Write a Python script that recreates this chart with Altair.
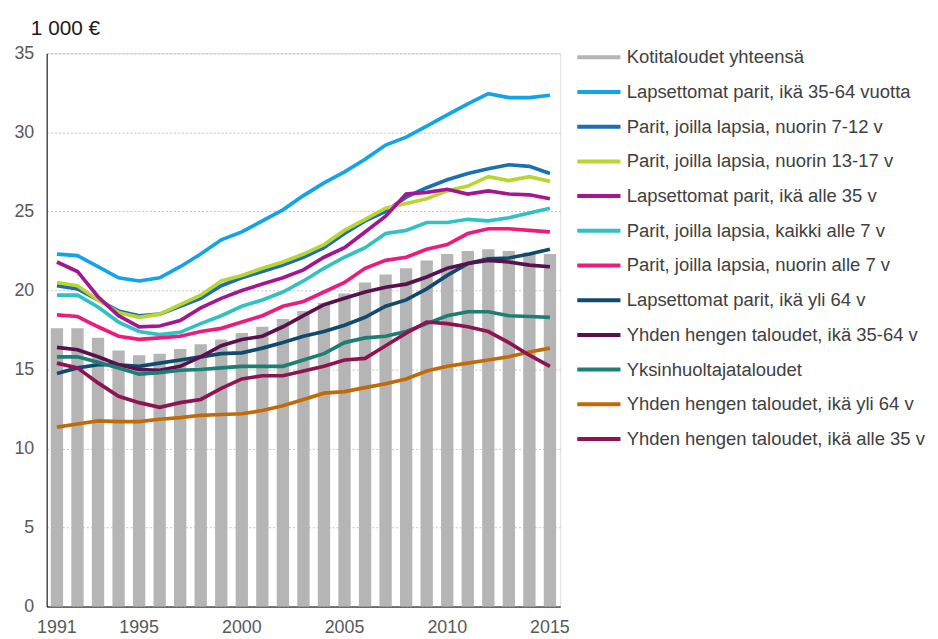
import altair as alt
import pandas as pd

years = list(range(1991, 2016))

total = [17.6, 17.6, 17.0, 16.2, 15.9, 16.0, 16.3, 16.6, 16.9, 17.3, 17.7, 18.2, 18.7,
         19.2, 19.8, 20.5, 21.0, 21.4, 21.9, 22.3, 22.5, 22.6, 22.5, 22.4, 22.3]

l3564 = [22.3, 22.2, 21.5, 20.8, 20.6, 20.8, 21.5, 22.3, 23.2, 23.7, 24.4, 25.1, 26.0,
         26.8, 27.5, 28.3, 29.2, 29.7, 30.4, 31.1, 31.8, 32.45, 32.2, 32.2, 32.35]
p712 = [20.3, 20.1, 19.4, 18.7, 18.4, 18.5, 19.0, 19.5, 20.3, 20.8, 21.2, 21.6, 22.1,
        22.7, 23.6, 24.4, 25.0, 25.9, 26.5, 27.0, 27.4, 27.7, 27.95, 27.85, 27.4]
p1317 = [20.5, 20.3, 19.4, 18.6, 18.3, 18.5, 19.1, 19.7, 20.6, 20.95, 21.4, 21.8, 22.3,
         22.9, 23.8, 24.5, 25.2, 25.5, 25.8, 26.3, 26.6, 27.2, 26.95, 27.2, 26.9]
la35 = [21.8, 21.2, 19.6, 18.4, 17.7, 17.75, 18.1, 18.9, 19.5, 20.0, 20.4, 20.8, 21.3,
        22.1, 22.7, 23.7, 24.7, 26.1, 26.2, 26.4, 26.1, 26.3, 26.1, 26.05, 25.8]
kaikki7 = [19.7, 19.7, 18.95, 18.0, 17.4, 17.2, 17.35, 17.9, 18.4, 19.0, 19.4, 19.9, 20.6,
           21.4, 22.1, 22.7, 23.6, 23.8, 24.3, 24.3, 24.5, 24.4, 24.6, 24.9, 25.2]
nuorin7 = [18.45, 18.35, 17.7, 17.1, 16.9, 17.0, 17.1, 17.4, 17.6, 18.0, 18.4, 19.0, 19.3,
           19.9, 20.5, 21.4, 21.9, 22.1, 22.6, 22.9, 23.6, 23.9, 23.9, 23.8, 23.7]
yli64 = [14.75, 15.1, 15.3, 15.3, 15.2, 15.4, 15.6, 15.8, 16.0, 16.05, 16.35, 16.7, 17.1,
         17.4, 17.8, 18.3, 19.0, 19.4, 20.1, 20.95, 21.7, 22.0, 22.05, 22.3, 22.6]
y3564 = [16.4, 16.25, 15.8, 15.3, 15.0, 14.95, 15.2, 15.8, 16.5, 16.9, 17.1, 17.7, 18.4,
         19.1, 19.5, 19.9, 20.2, 20.4, 20.85, 21.4, 21.7, 21.9, 21.8, 21.6, 21.5]
yksin = [15.8, 15.8, 15.45, 15.1, 14.7, 14.8, 14.95, 15.0, 15.1, 15.2, 15.2, 15.2, 15.6,
         16.0, 16.7, 17.0, 17.1, 17.4, 17.9, 18.4, 18.65, 18.65, 18.4, 18.35, 18.3]
y64 = [11.35, 11.55, 11.75, 11.7, 11.7, 11.85, 11.95, 12.1, 12.15, 12.2, 12.4, 12.7, 13.1,
       13.5, 13.6, 13.85, 14.1, 14.4, 14.9, 15.2, 15.4, 15.6, 15.8, 16.1, 16.35]
ya35 = [15.4, 15.1, 14.15, 13.3, 12.9, 12.6, 12.9, 13.1, 13.8, 14.4, 14.6, 14.6, 14.9,
        15.2, 15.6, 15.7, 16.5, 17.3, 18.0, 17.9, 17.7, 17.4, 16.7, 15.9, 15.2]

total_name = "Kotitaloudet yhteensä"
series_names = [
    "Lapsettomat parit, ikä 35-64 vuotta",
    "Parit, joilla lapsia, nuorin 7-12 v",
    "Parit, joilla lapsia, nuorin 13-17 v",
    "Lapsettomat parit, ikä alle 35 v",
    "Parit, joilla lapsia, kaikki alle 7 v",
    "Parit, joilla lapsia, nuorin alle 7 v",
    "Lapsettomat parit, ikä yli 64 v",
    "Yhden hengen taloudet, ikä 35-64 v",
    "Yksinhuoltajataloudet",
    "Yhden hengen taloudet, ikä yli 64 v",
    "Yhden hengen taloudet, ikä alle 35 v",
]
series_values = [l3564, p712, p1317, la35, kaikki7, nuorin7, yli64, y3564, yksin, y64, ya35]
bar_color = "#b5b5b5"
line_colors = ["#12a4ea", "#1b6fb0", "#b9d532", "#a3168f", "#30c2c2", "#ec1c7c",
               "#114a6d", "#5a0f4e", "#1c7f74", "#c06b0a", "#8d1352"]
tick_years = [1991, 1995, 2000, 2005, 2010, 2015]
y_ticks = [0, 5, 10, 15, 20, 25, 30, 35]

rows = []
for name, vals in zip(series_names, series_values):
    for yr, v in zip(years, vals):
        rows.append({"year": yr, "series": name, "value": v})
lines_df = pd.DataFrame(rows)
bars_df = pd.DataFrame({"year": years, "value": total})

legend_domain = [total_name] + series_names
legend_range = [bar_color] + line_colors

FONT = "Liberation Sans"

x_enc = alt.X(
    "year:O",
    scale=alt.Scale(paddingInner=0.4, paddingOuter=0.2),
    axis=alt.Axis(values=tick_years, labelAngle=0, ticks=False, labelPadding=12,
                  labelFontSize=18, labelColor="#595959", labelFont=FONT,
                  domainColor="#000000", domainWidth=1, title=None, grid=False),
)
y_enc = alt.Y(
    "value:Q",
    scale=alt.Scale(domain=[0, 35], nice=False),
    axis=alt.Axis(values=y_ticks, title="1 000 €", titleAngle=0, titleAlign="left",
                  titleBaseline="alphabetic", titleX=-16.5, titleY=-19, titleFontSize=21,
                  titleFontWeight="normal", titleColor="#1a1a1a", titleFont=FONT,
                  ticks=False, labelPadding=13, labelFontSize=18, labelColor="#595959",
                  labelFont=FONT, gridColor="#c4c4c4", gridDash=[2, 2], gridWidth=1,
                  domainColor="#000000", domainWidth=1),
)

bars = alt.Chart(bars_df).mark_bar(color=bar_color).encode(x=x_enc, y=y_enc)

lines = alt.Chart(lines_df).mark_line(strokeWidth=3.7).encode(
    x=alt.X("year:O"),
    y=alt.Y("value:Q"),
    color=alt.Color(
        "series:N",
        scale=alt.Scale(domain=legend_domain, range=legend_range),
        legend=alt.Legend(title=None, orient="none", legendX=533, legendY=-20,
                          symbolType="stroke", symbolSize=1900, symbolStrokeWidth=4,
                          labelFontSize=18.6, labelFont=FONT, labelColor="#404040",
                          labelOffset=4, rowPadding=1, labelLimit=0, padding=0),
    ),
)

chart = alt.layer(bars, lines).properties(
    width=518, height=558,
    autosize=alt.AutoSizeParams(type="none"),
    padding={"left": 39, "top": 43, "right": 373, "bottom": 30},
).configure_view(stroke=None).configure(font=FONT)

chart.save("out.html", embed_options={"renderer": "svg", "actions": False})
